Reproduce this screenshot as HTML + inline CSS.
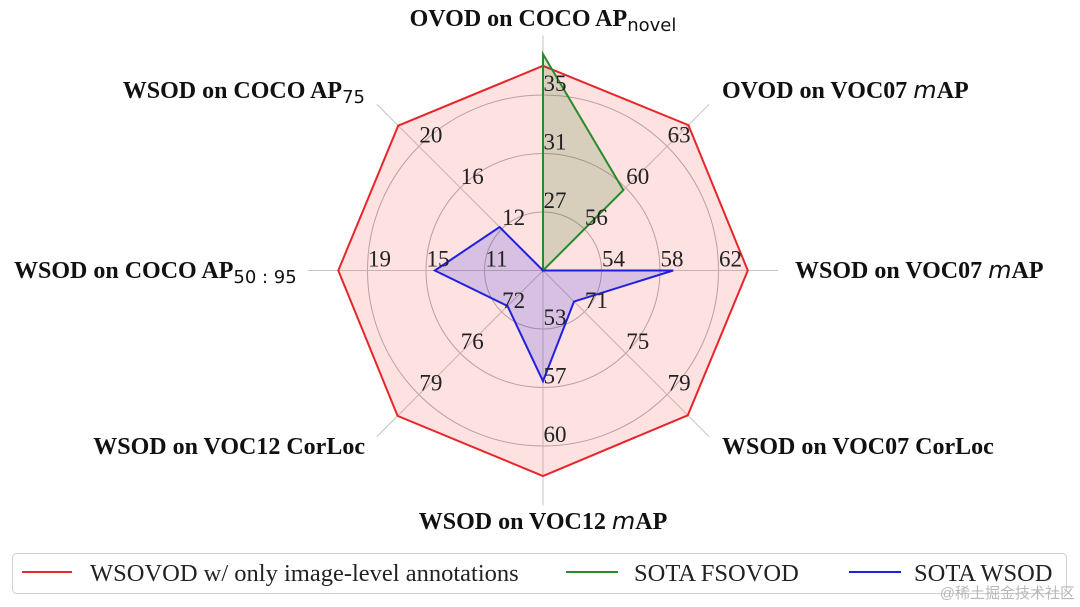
<!DOCTYPE html>
<html><head><meta charset="utf-8">
<style>
html,body{margin:0;padding:0;background:#fff;}
svg{display:block;}
.tick{font-family:"Liberation Serif",serif;font-size:23px;fill:#222;}
.ax{font-family:"Liberation Serif",serif;font-size:24px;font-weight:bold;fill:#111;}
.sub{font-family:"DejaVu Sans","Liberation Sans",sans-serif;font-weight:normal;font-size:18px;}
.it{font-family:"DejaVu Sans","Liberation Sans",sans-serif;font-weight:normal;font-style:italic;}
.leg{font-family:"Liberation Serif",serif;font-size:24.5px;fill:#222;}
</style></head>
<body>
<svg id="chart" width="1080" height="607" viewBox="0 0 1080 607">
<g id="grid"></g>
<g id="series"></g>
<g id="ticks"></g>
<g>
<text class="ax" x="543" y="26" text-anchor="middle">OVOD on COCO AP<tspan class="sub" dy="5">novel</tspan></text>
<text class="ax" x="722" y="98">OVOD on VOC07 <tspan class="it">m</tspan>AP</text>
<text class="ax" x="795" y="278">WSOD on VOC07 <tspan class="it">m</tspan>AP</text>
<text class="ax" x="722" y="454">WSOD on VOC07 CorLoc</text>
<text class="ax" x="543" y="529" text-anchor="middle">WSOD on VOC12 <tspan class="it">m</tspan>AP</text>
<text class="ax" x="365" y="454" text-anchor="end">WSOD on VOC12 CorLoc</text>
<text class="ax" x="14" y="278">WSOD on COCO AP<tspan class="sub" dy="5">50 : 95</tspan></text>
<text class="ax" x="365" y="98" text-anchor="end">WSOD on COCO AP<tspan class="sub" dy="5">75</tspan></text>
</g>
<g>
<rect x="12.5" y="553.5" width="1054" height="40" rx="4" fill="#fff" stroke="#d0d0d0"/>
<line x1="22" y1="572" x2="72" y2="572" stroke="#e8252a" stroke-width="2"/>
<text class="leg" x="90" y="581">WSOVOD w/ only image-level annotations</text>
<line x1="566" y1="572" x2="618" y2="572" stroke="#2a8a2a" stroke-width="2"/>
<text class="leg" x="634" y="581">SOTA FSOVOD</text>
<line x1="849" y1="572" x2="901" y2="572" stroke="#2020e0" stroke-width="2"/>
<text class="leg" x="914" y="581">SOTA WSOD</text>
</g>
<text x="1075" y="598" text-anchor="end" font-family="'Liberation Sans','Noto Sans CJK SC',sans-serif" font-size="15" fill="#b8b8b8">@稀土掘金技术社区</text>
</svg>
<script>
// axis order: clockwise from top
const axisNames = ["OVOD COCO novel","OVOD VOC07 mAP","WSOD VOC07 mAP","WSOD VOC07 CorLoc","WSOD VOC12 mAP","WSOD VOC12 CorLoc","WSOD COCO AP50:95","WSOD COCO AP75"];
const axisBase = [23, 53, 50, 67, 50, 68.5, 7, 8];
const axisStep = [4, 3.5, 4, 4, 3.33, 3.5, 4, 4];
const tickLabels = [["27","31","35"],["56","60","63"],["54","58","62"],["71","75","79"],["53","57","60"],["72","76","79"],["11","15","19"],["12","16","20"]];
const wsovodValues = [37.0, 65.3, 64.0, 81.0, 61.7, 80.8, 21.0, 22.0];
const fsovodValues = [37.8, 59.8, 50, 67, 50, 68.5, 7, 8];
const wsodValues = [23, 53, 58.9, 70.0, 56.3, 71.5, 14.4, 12.2];

const NS="http://www.w3.org/2000/svg";
const cx=543, cy=270.5, ring=58.5, rAxis=235;
function angle(i){return -Math.PI/2 + i*Math.PI/4;}
function rScale(i,v){return Math.max(0,(v-axisBase[i])/axisStep[i]*ring);}
function pt(i,r){return [cx+r*Math.cos(angle(i)), cy+r*Math.sin(angle(i))];}
function mk(tag,attrs,parent){const e=document.createElementNS(NS,tag);for(const k in attrs)e.setAttribute(k,attrs[k]);parent.appendChild(e);return e;}

const grid=document.getElementById('grid');
for(let k=1;k<=3;k++){
  const c=mk('circle',{cx:cx,cy:cy,r:ring*k,fill:'none',stroke:'#b0b0b0','stroke-width':1},grid);
  
  
}
for(let i=0;i<8;i++){
  const p=pt(i,rAxis);
  const l=mk('line',{x1:cx,y1:cy,x2:p[0],y2:p[1],stroke:'#c4c4c4','stroke-width':1},grid);
  
  
}

const series=document.getElementById('series');
function drawSeries(vals,fill,stroke,name){
  const pts=vals.map((v,i)=>pt(i,rScale(i,v)).map(n=>n.toFixed(1)).join(',')).join(' ');
  const p=mk('polygon',{points:pts,fill:fill,stroke:stroke,'stroke-width':2,'stroke-linejoin':'miter'},series);
  
  
}
drawSeries(wsovodValues,'rgba(248,80,80,0.17)','#e8252a','series-wsovod');
drawSeries(fsovodValues,'rgba(40,120,20,0.18)','#2a8a2a','series-sota-fsovod');
drawSeries(wsodValues,'rgba(60,60,230,0.2)','#2020e0','series-sota-wsod');

const ticks=document.getElementById('ticks');
for(let i=0;i<8;i++){
  for(let k=0;k<3;k++){
    const p=pt(i,ring*(k+1));
    const t=mk('text',{x:p[0]+12,y:p[1]-4,'text-anchor':'middle',class:'tick'},ticks);
    t.textContent=tickLabels[i][k];
    
    
  }
}
</script>
</body></html>
